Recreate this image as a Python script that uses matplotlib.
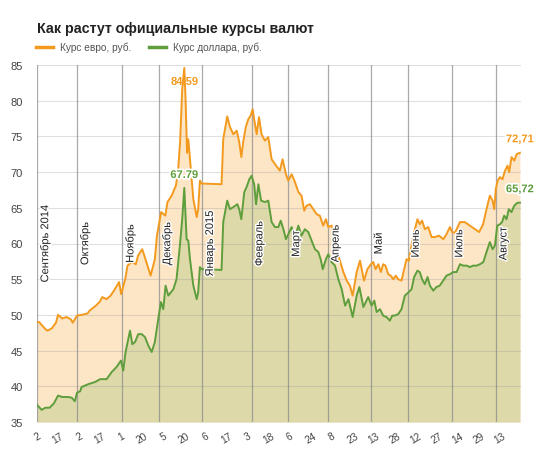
import matplotlib.pyplot as plt
from matplotlib.lines import Line2D
import matplotlib.patheffects as pe

plt.rcParams['font.family'] = ['Liberation Sans', 'DejaVu Sans']

# trading-day index along the axis (ticks every 10 days)
eur_day = [0, 1, 4, 5, 7, 9, 10, 12, 14, 16, 17, 19, 21, 24, 25, 28, 30, 31, 33, 35,
           37, 39, 40, 42, 43, 45, 47, 48, 50, 51, 53, 54, 56, 57, 59, 61, 62, 64, 66, 67,
           68, 69, 70, 70.6, 71.3, 71.9, 72.7, 74.3, 75.9, 76.6, 77.4, 78.2, 87.7,
           88.5, 90.4, 91.7, 93.3, 94.9, 96.1, 97.1, 98, 99.2, 100.4, 101.5, 102.5, 103.3,
           104.4, 105.5, 106.7, 108.3, 109.9, 111.5, 113.6, 115.4, 116.7, 118.3, 119.4, 121,
           122.6, 124.2, 125.7, 127, 128.1, 129.7, 131.3, 132.9, 134.4, 136, 137.3, 138.4,
           140, 143.2, 145.6, 147.2, 148.7, 150, 151.9, 153.5, 155.4, 157, 158.7, 159.8,
           160.9, 162.2, 163.4, 164.5, 165.6, 166.9, 168.1, 169.3, 170.5, 171.6, 173.2,
           174.5, 175.6, 176.7, 178.4, 179.6, 180.8, 181.9, 183, 184.3, 185.9, 187.5, 189.1,
           191, 193.1, 194.6, 196.2, 197.3, 198.6, 201, 203.3, 205.7, 208.1, 210.1, 212,
           213.6, 215.2, 216.5, 217.3, 218, 218.9, 220, 221.2, 222.4, 223.6, 224.4, 225.5,
           226.8, 227.9, 229.5]
eur = [49.0, 49.0, 48.0, 47.8, 48.1, 48.9, 50.0, 49.5, 49.7, 49.4, 48.9, 49.9, 50.0, 50.2,
       50.6, 51.3, 51.9, 52.5, 52.2, 52.7, 53.6, 54.6, 52.9, 55.1, 56.9, 57.4, 57.1, 58.3,
       59.2, 58.3, 56.4, 55.5, 57.8, 61.1, 64.4, 63.9, 65.8, 66.7, 68.1, 70.0, 74.2, 81.6,
       84.59, 80.2, 72.7, 74.6, 71.8, 66.2, 63.7, 64.8, 68.8, 68.4, 68.3,
       74.6, 77.8, 76.3, 75.3, 75.8, 74.2, 72.1, 74.2, 76.3, 77.4, 77.9, 78.8, 77.2,
       75.3, 77.7, 75.3, 74.4, 74.9, 71.8, 70.9, 70.2, 71.8, 69.7, 68.8, 69.7,
       68.6, 67.2, 66.7, 64.6, 65.3, 65.5, 64.8, 64.1, 63.9, 62.5, 63.4, 62.3,
       62.5, 58.3, 56.0, 54.8, 54.1, 52.7, 56.0, 57.6, 54.8, 56.4, 57.1, 57.4,
       56.4, 57.1, 56.0, 57.1, 56.9, 55.7, 55.5, 55.0, 55.5, 55.0, 54.8,
       56.4, 57.8, 57.6, 60.5, 62.0, 63.4, 62.7, 63.2, 62.0, 62.3, 60.9, 60.9,
       61.1, 60.6, 61.3, 62.3, 61.6, 61.5, 63.0, 63.0, 62.5, 62.0, 61.6, 62.7,
       64.8, 66.7, 66.0, 64.8, 67.6, 68.8, 69.3, 69.0, 70.2, 70.9, 70.0, 72.1,
       71.6, 72.5, 72.71]

usd_day = [0, 2.2, 4, 6, 8, 10, 12, 15, 16.5, 18, 19, 20.5, 21.2, 24.4, 27.6, 30, 33.1,
           35.5, 37.8, 39.9, 41, 42.1, 44.2, 45.3, 46.6, 48.1, 49.8, 51.3, 52.9, 54.5, 56,
           57.6, 58.9, 60, 61.1, 62.4, 64.8, 66.3, 67.9, 69, 70, 70.6, 71.1, 71.9, 72.7,
           74.3, 75.9, 76.6, 77.4, 78.2, 87.7, 88.5, 90.4, 91.7, 93.3, 95.2, 96.1, 97.1,
           98.5, 99.6, 100.9, 102, 103.2, 104.1, 105.2, 106.5, 108.3, 109.9, 111.5, 113.1,
           114.7, 115.8, 117.1, 118.3, 119.4, 121, 122.6, 124.2, 125.7, 127.3, 128.9, 130.5,
           132.1, 133.7, 134.8, 135.8, 137.3, 138.4, 140, 141.6, 143.2, 144.8, 146.4, 148,
           150, 151.9, 153.2, 155.1, 157.4, 159, 160.3, 161.4, 163, 164.5, 166.1, 167.7,
           168.8, 170, 171.6, 173.2, 174.8, 176.7, 178, 179.2, 180.8, 181.9, 183, 184.3,
           185.6, 186.7, 188.3, 189.8, 191.4, 193, 194.6, 196.2, 197.8, 199.4, 201, 202.6,
           204.2, 205.7, 207.3, 208.9, 210.5, 212.1, 213.6, 215.2, 216.5, 217.6, 218.7, 220,
           221, 222, 223.1, 224.2, 225.5, 226.8, 228.3, 229.5]
usd = [37.4, 36.7, 37.0, 37.0, 37.6, 38.7, 38.5, 38.5, 38.4, 37.9, 39.1, 39.3, 39.9, 40.3,
       40.6, 41.0, 41.0, 42.0, 42.7, 43.6, 42.2, 44.8, 47.8, 45.9, 46.2, 47.3, 47.3, 46.9,
       45.7, 44.8, 46.2, 49.4, 51.8, 50.8, 54.1, 52.7, 53.6, 55.0, 59.7, 63.4, 67.79, 64.0,
       60.6, 60.4, 57.8, 54.1, 52.2, 53.2, 56.7, 56.4, 56.3, 63.0, 66.0, 64.8, 65.1, 65.5,
       64.8, 63.4, 67.2, 67.9, 69.0, 69.5, 68.3, 65.5, 68.3, 66.0, 65.8, 66.0, 63.0, 62.3,
       62.3, 63.2, 62.0, 60.6, 61.3, 62.3, 60.9, 62.5, 61.1, 62.0, 61.6, 60.4, 59.2, 58.8,
       57.8, 56.4, 57.8, 58.5, 57.4, 56.9, 55.0, 53.6, 51.3, 52.2, 49.7, 52.7, 53.9, 51.1,
       52.5, 51.3, 52.0, 50.4, 50.8, 49.9, 49.7, 49.2, 49.9, 49.9, 50.1, 50.8, 52.7, 53.2,
       53.6, 55.3, 56.2, 56.0, 55.0, 54.3, 55.3, 54.1, 53.4, 53.9, 54.1, 54.8, 55.5, 55.7,
       56.0, 56.0, 57.1, 56.9, 56.9, 56.7, 56.9, 56.9, 57.1, 57.4, 58.8, 60.2, 59.2, 59.7,
       62.5, 62.7, 63.0, 63.9, 63.4, 64.8, 64.4, 65.3, 65.7, 65.72]

tick_days = list(range(0, 221, 10))
tick_labels = ['2', '17', '2', '17', '1', '20', '5', '20', '6', '17', '3', '18',
               '6', '24', '8', '23', '13', '28', '12', '27', '14', '29', '13']
month_days = [0, 19, 40.5, 58, 78.5, 102, 119.5, 138.2, 158.7, 176.3, 197, 218]
month_names = ['Сентябрь 2014', 'Октябрь', 'Ноябрь', 'Декабрь', 'Январь 2015', 'Февраль',
               'Март', 'Апрель', 'Май', 'Июнь', 'Июль', 'Август']

orange = '#f39a1e'
green = '#5e9e3c'

fig = plt.figure(figsize=(5.49, 4.52), dpi=100)
ax = fig.add_axes([37/549, 1 - 423/452, 484/549, 357/452])

ax.fill_between(eur_day, eur, 35, color='#fde6c6', lw=0, zorder=1)
ax.fill_between(usd_day, usd, 35, color='#ddd9a9', lw=0, zorder=1.1)

for y in range(35, 86, 5):
    ax.axhline(y, color='#999999', lw=0.8, alpha=0.3, zorder=2)
for d, name in zip(month_days, month_names):
    ax.axvline(d, color='#8c8c8c', lw=0.9, alpha=0.75, zorder=2)
    ax.text(d + 1.3, 60, name, rotation=90, ha='left', va='center', fontsize=8,
            color='#222222', zorder=4,
            path_effects=[pe.withStroke(linewidth=2, foreground='white')])

ax.plot(eur_day, eur, color=orange, lw=1.4, zorder=3)
ax.plot(usd_day, usd, color=green, lw=1.4, zorder=3)

halo = [pe.withStroke(linewidth=2.5, foreground='white')]
ax.text(70, 82.7, '84.59', color=orange, fontsize=8, fontweight='bold', ha='center',
        va='center', zorder=2.5)
ax.text(70, 69.6, '67.79', color=green, fontsize=8, fontweight='bold', ha='center',
        va='center', zorder=4, path_effects=halo)
ax.text(229.5, 74.6, '72,71', color=orange, fontsize=8, fontweight='bold', ha='center',
        va='center', zorder=4, clip_on=False, path_effects=halo)
ax.text(229.5, 67.6, '65,72', color=green, fontsize=8, fontweight='bold', ha='center',
        va='center', zorder=4, clip_on=False, path_effects=halo)

ax.set_xlim(0, 230)
ax.set_ylim(35, 85)
ax.set_yticks(range(35, 86, 5))
ax.set_xticks(tick_days)
ax.set_xticklabels(tick_labels, rotation=30)
ax.tick_params(length=0, labelsize=8, colors='#444444')
ax.tick_params(axis='x', labelsize=7.3, pad=6)
ax.tick_params(axis='y', pad=10)
for s in ax.spines.values():
    s.set_visible(False)

fig.text(37/549, 1 - 29/452, 'Как растут официальные курсы валют', fontsize=10.3,
         fontweight='bold', color='#222222', va='center', ha='left')

handles = [Line2D([], [], color=orange, lw=2.5), Line2D([], [], color=green, lw=2.5)]
fig.legend(handles, ['Курс евро, руб.', 'Курс доллара, руб.'], loc='center left',
           bbox_to_anchor=(36/549, 1 - 48/452), ncol=2, frameon=False, fontsize=7.3,
           handlelength=1.7, handletextpad=0.7, columnspacing=1.7, borderpad=0,
           borderaxespad=0, labelcolor='#555555')

fig.savefig('out.png', dpi=100)
